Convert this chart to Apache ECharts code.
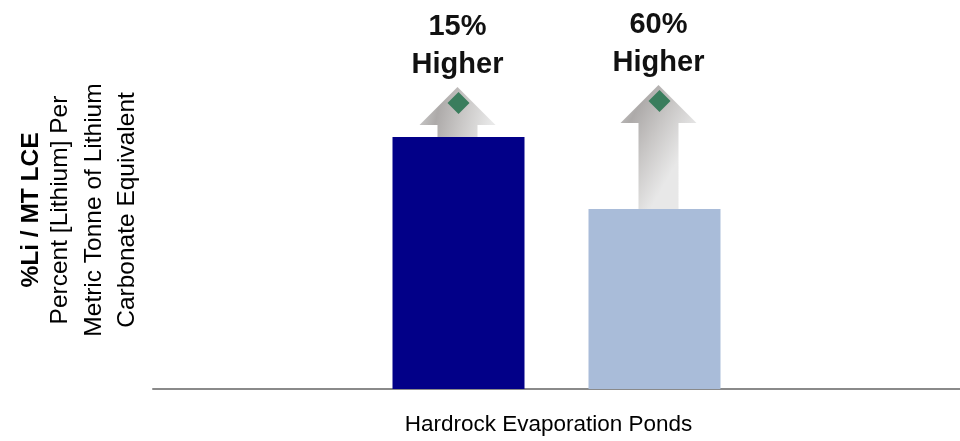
<!DOCTYPE html>
<html>
<head>
<meta charset="utf-8">
<title>Lithium content per tonne LCE</title>
<script src="https://cdn.jsdelivr.net/npm/echarts@6/dist/echarts.min.js"></script>
<style>
  html, body { margin: 0; padding: 0; background: #ffffff; }
  #chart { width: 960px; height: 441px; }
</style>
</head>
<body>
<div id="chart"></div>
<script>
// Category and series
const categories = ['Hardrock Evaporation Ponds'];
const seriesNames = ['Hardrock', 'Evaporation Ponds'];
// Bar heights (relative units)
const barValues = [100.8, 72];
// Where each "higher" arrow points to (same units)
const arrowTipValues = [120.8, 121.6];
// Arrow captions
const arrowPercents = ['15%', '60%'];
const arrowWord = 'Higher';
// Vertical axis title, one entry per line
const yTitleLines = ['%Li / MT LCE', 'Percent [Lithium] Per', 'Metric Tonne of Lithium', 'Carbonate Equivalent'];
const yMax = 150;

const FONT = '"Liberation Sans", Arial, Helvetica, sans-serif';
const BAR_W = 132;
const BAR_GAP = 64;
const barColors = ['#020088', '#a9bcd9'];
const barOffsets = [-(BAR_W + BAR_GAP) / 2, (BAR_W + BAR_GAP) / 2];
const arrowShift = [-1, 4];

const chart = echarts.init(document.getElementById('chart'), null, { renderer: 'canvas' });

function renderArrow(params, api) {
  const i = api.value(3);
  const base = api.coord([api.value(0), api.value(1)]);
  const tip = api.coord([api.value(0), api.value(2)]);
  const cx = base[0] + barOffsets[i] + arrowShift[i];
  const ty = tip[1];
  const by = base[1];
  const headH = 38, headHalf = 38, shaftHalf = 20;
  const pts = [
    [cx, ty],
    [cx + headHalf, ty + headH],
    [cx + shaftHalf, ty + headH],
    [cx + shaftHalf, by],
    [cx - shaftHalf, by],
    [cx - shaftHalf, ty + headH],
    [cx - headHalf, ty + headH]
  ];
  const d = 11;
  const dc = [cx + 1, ty + 16];
  return {
    type: 'group',
    children: [
      {
        type: 'polygon',
        shape: { points: pts },
        style: {
          fill: {
            type: 'linear', x: 0, y: 0, x2: 1, y2: 0.35,
            colorStops: [
              { offset: 0, color: '#d2d2d2' },
              { offset: 0.3, color: '#adaaa9' },
              { offset: 0.62, color: '#c9c7c6' },
              { offset: 1, color: '#e8e8e8' }
            ]
          }
        }
      },
      {
        type: 'polygon',
        shape: { points: [[dc[0], dc[1] - d], [dc[0] + d, dc[1]], [dc[0], dc[1] + d], [dc[0] - d, dc[1]]] },
        style: { fill: '#3a7d5d' }
      },
      {
        type: 'text',
        x: cx, y: ty - 60,
        style: {
          text: arrowPercents[i], align: 'center', verticalAlign: 'middle',
          fontFamily: FONT, fontSize: 29, fontWeight: 'bold', fill: '#111111'
        }
      },
      {
        type: 'text',
        x: cx, y: ty - 22,
        style: {
          text: arrowWord, align: 'center', verticalAlign: 'middle',
          fontFamily: FONT, fontSize: 29, fontWeight: 'bold', fill: '#111111'
        }
      }
    ]
  };
}

const titleX = [31, 60, 94, 127];
const graphics = yTitleLines.map((line, k) => ({
  type: 'text',
  x: titleX[k],
  y: 210,
  rotation: Math.PI / 2,
  style: {
    text: line,
    align: 'center',
    verticalAlign: 'middle',
    fontFamily: FONT,
    fontSize: 24.5,
    fontWeight: k === 0 ? 'bold' : 'normal',
    fill: '#000000'
  }
}));

const option = {
  animation: false,
  backgroundColor: '#ffffff',
  grid: { left: 153, right: -7, top: 14, bottom: 52, containLabel: false },
  xAxis: {
    type: 'category',
    data: categories,
    axisLine: { show: true, lineStyle: { color: '#8a8a8a', width: 2 } },
    axisTick: { show: false },
    axisLabel: {
      margin: 24,
      padding: [0, 16, 0, 0],
      fontFamily: FONT,
      fontSize: 22.5,
      color: '#000000'
    }
  },
  yAxis: {
    type: 'value',
    min: 0,
    max: yMax,
    show: false,
    splitLine: { show: false }
  },
  series: [
    ...seriesNames.map((name, i) => ({
      name: name,
      type: 'bar',
      data: [barValues[i]],
      barWidth: BAR_W,
      barGap: (BAR_GAP / BAR_W * 100).toFixed(2) + '%',
      itemStyle: { color: barColors[i] },
      z: 3
    })),
    {
      type: 'custom',
      renderItem: renderArrow,
      encode: { x: 0, y: 2 },
      data: barValues.map((v, i) => [0, v, arrowTipValues[i], i]),
      z: 2,
      silent: true,
      clip: false
    }
  ],
  graphic: graphics
};

chart.setOption(option);
</script>
</body>
</html>
